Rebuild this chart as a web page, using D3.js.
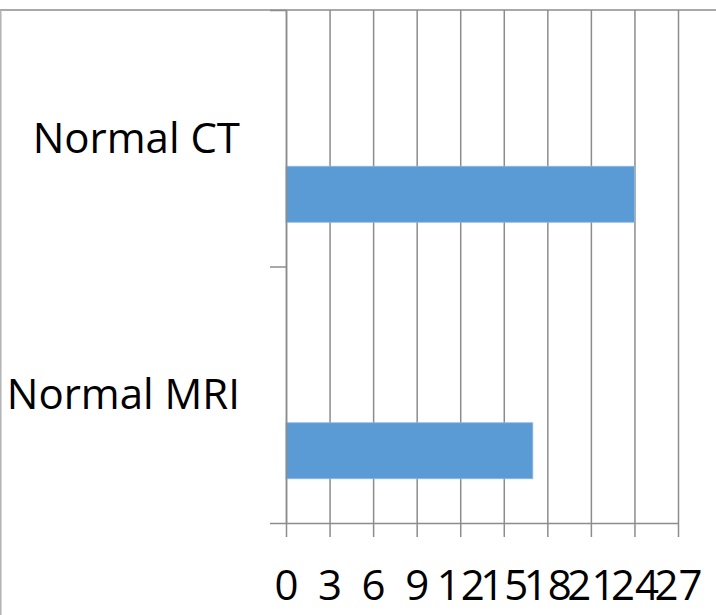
<!DOCTYPE html>
<html>
<head>
<meta charset="utf-8">
<script src="https://cdn.jsdelivr.net/npm/d3@7"></script>
<style>
  body { margin: 0; background: #fff; }
  svg { display: block; font-family: "Open Sans", sans-serif; }
</style>
</head>
<body>
<svg></svg>
<script>
let categories = ['Normal CT', 'Normal MRI'];
let counts = [24, 17];
// excel left room for three series per category, only the last one has data
let seriesSlots = ['s1', 's2', 's3'];
let shownSlot = 's3';
let xTicks = [0, 3, 6, 9, 12, 15, 18, 21, 24, 27];

let w = 716;
let h = 615;
let plotLeft = 286;
let plotRight = 678;
let plotTop = 10;
let plotBottom = 523;

let svg = d3.select('svg')
  .attr('width', w)
  .attr('height', h);

let xSc = d3.scaleLinear()
  .domain([0, 27])
  .range([plotLeft, plotRight]);

let ySc = d3.scaleBand()
  .domain(categories)
  .range([plotTop, plotBottom])
  .padding(0);

let slotSc = d3.scaleBand()
  .domain(seriesSlots)
  .range([0, ySc.bandwidth()])
  .paddingInner(0)
  .paddingOuter(0.79);

// edges between categories, for the category axis ticks
let yEdge = d3.scaleLinear()
  .domain([0, categories.length])
  .range([plotTop, plotBottom]);

// outer frame (cropped chart border)
svg.append('line')
  .attr('x1', 0).attr('x2', w)
  .attr('y1', plotTop).attr('y2', plotTop)
  .attr('stroke', '#8c8c8c')
  .attr('stroke-width', 1.5);
svg.append('line')
  .attr('x1', 0.75).attr('x2', 0.75)
  .attr('y1', plotTop).attr('y2', h)
  .attr('stroke', '#b4b4b4')
  .attr('stroke-width', 1.5);

// vertical gridlines
let grid = svg.append('g')
  .attr('transform', 'translate(0,' + plotBottom + ')')
  .call(d3.axisBottom(xSc).tickValues(xTicks).tickSize(-(plotBottom - plotTop)).tickFormat(''));
grid.select('.domain').remove();
grid.selectAll('line').attr('stroke', '#8c8c8c').attr('stroke-width', 1.5);

// bars
svg.selectAll('rect.bar')
  .data(categories)
  .enter()
  .append('rect')
  .attr('class', 'bar')
  .attr('x', xSc(0))
  .attr('y', d => ySc(d) + slotSc(shownSlot))
  .attr('width', (d, i) => xSc(counts[i]) - xSc(0))
  .attr('height', slotSc.bandwidth())
  .attr('fill', '#5b9bd5')
  .attr('stroke', '#8db8e3')
  .attr('stroke-width', 0.8);

// value axis
let xAxis = svg.append('g')
  .attr('transform', 'translate(0,' + plotBottom + ')')
  .call(d3.axisBottom(xSc).tickValues(xTicks).tickSize(14).tickPadding(33).tickSizeOuter(0).tickFormat(d3.format('d')));
xAxis.select('.domain').attr('stroke', '#8c8c8c').attr('stroke-width', 1.5);
xAxis.selectAll('line').attr('stroke', '#8c8c8c').attr('stroke-width', 1.5);
xAxis.selectAll('text')
  .attr('fill', '#000')
  .style('font-size', '42px')
  .style('font-family', '"Open Sans", sans-serif');

// category axis
let yAxis = svg.append('g')
  .attr('transform', 'translate(' + plotLeft + ',0)')
  .call(d3.axisLeft(yEdge).tickValues(d3.range(categories.length + 1)).tickSize(16).tickSizeOuter(0).tickFormat(''));
yAxis.select('.domain').attr('stroke', '#8c8c8c').attr('stroke-width', 1.5);
yAxis.selectAll('line').attr('stroke', '#8c8c8c').attr('stroke-width', 1.5);

svg.selectAll('text.cat')
  .data(categories)
  .enter()
  .append('text')
  .attr('class', 'cat')
  .attr('x', 240)
  .attr('y', d => ySc(d) + ySc.bandwidth() / 2)
  .attr('dy', '0.35em')
  .attr('text-anchor', 'end')
  .style('font-size', '42px')
  .attr('fill', '#000')
  .text(d => d);
</script>
</body>
</html>
